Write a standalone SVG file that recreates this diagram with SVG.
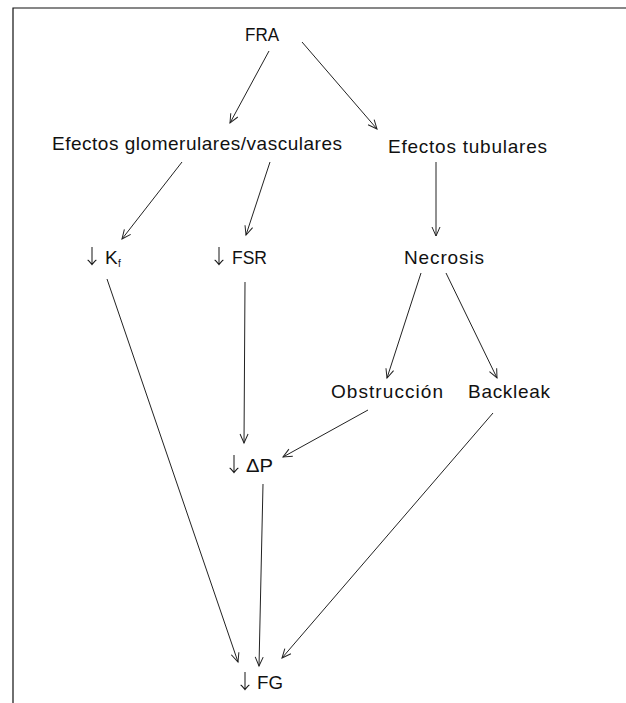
<svg xmlns="http://www.w3.org/2000/svg" width="626" height="703" viewBox="0 0 626 703">
<style>
  .t { font-family: "Liberation Sans", Arial, sans-serif; font-size: 19px; fill: #111; }
  .ar { font-family: "Noto Sans CJK JP", "DejaVu Sans", sans-serif; font-size: 20px; font-weight: 300; fill: #111; filter: url(#gray); }
  .sub { font-size: 10px; }
  .c line { stroke: #222; stroke-width: 1; fill: none; marker-end: url(#ah); }
  .frame { stroke: #111; stroke-width: 1.2; fill: none; }
</style>
<defs>
  <filter id="gray" x="-20%" y="-20%" width="140%" height="140%">
    <feColorMatrix type="saturate" values="0"/>
  </filter>
  <marker id="ah" markerUnits="userSpaceOnUse" markerWidth="14" markerHeight="14" refX="0" refY="0" viewBox="-10 -7 14 14" orient="auto" overflow="visible">
    <path d="M -9 -4 L 0 0 L -9 4" fill="none" stroke="#222" stroke-width="1"/>
  </marker>
</defs>
<rect width="626" height="703" fill="#fff"/>
<path class="frame" d="M 13 703 L 13 8 L 626 8"/>

<g id="fra"><text class="t" x="245" y="41" textLength="34" lengthAdjust="spacingAndGlyphs">FRA</text></g>
<g id="glom"><text class="t" x="52" y="150" textLength="290" lengthAdjust="spacing">Efectos glomerulares/vasculares</text></g>
<g id="tub"><text class="t" x="388" y="153" textLength="159" lengthAdjust="spacing">Efectos tubulares</text></g>
<g id="kf"><text class="ar" x="82" y="264">↓</text><text class="t" y="264"><tspan x="105">K</tspan><tspan class="sub" x="118" dy="3">f</tspan></text></g>
<g id="fsr"><text class="ar" x="209" y="264">↓</text><text class="t" x="232" y="264" textLength="35" lengthAdjust="spacingAndGlyphs">FSR</text></g>
<g id="necrosis"><text class="t" x="404" y="264" textLength="80" lengthAdjust="spacing">Necrosis</text></g>
<g id="obstruccion"><text class="t" x="331" y="398" textLength="112" lengthAdjust="spacing">Obstrucción</text></g>
<g id="backleak"><text class="t" x="468" y="398" textLength="82" lengthAdjust="spacing">Backleak</text></g>
<g id="dp"><text class="ar" x="224" y="472">↓</text><text class="t" x="246" y="472" textLength="27" lengthAdjust="spacingAndGlyphs">ΔP</text></g>
<g id="fg"><text class="ar" x="235" y="689">↓</text><text class="t" x="257" y="689" textLength="26" lengthAdjust="spacingAndGlyphs">FG</text></g>

<g class="c" id="connectors">
  <line x1="269" y1="51" x2="230" y2="123"/>
  <line x1="302" y1="42" x2="377" y2="129"/>
  <line x1="182" y1="162" x2="122" y2="239"/>
  <line x1="270" y1="162" x2="246" y2="235"/>
  <line x1="436" y1="162" x2="436" y2="236"/>
  <line x1="107" y1="279" x2="238" y2="662"/>
  <line x1="245" y1="282" x2="244" y2="443"/>
  <line x1="421" y1="273" x2="387" y2="378"/>
  <line x1="446" y1="273" x2="497" y2="378"/>
  <line x1="368" y1="410" x2="283" y2="457"/>
  <line x1="493" y1="413" x2="282" y2="658"/>
  <line x1="263" y1="484" x2="259" y2="666"/>
</g>
</svg>
